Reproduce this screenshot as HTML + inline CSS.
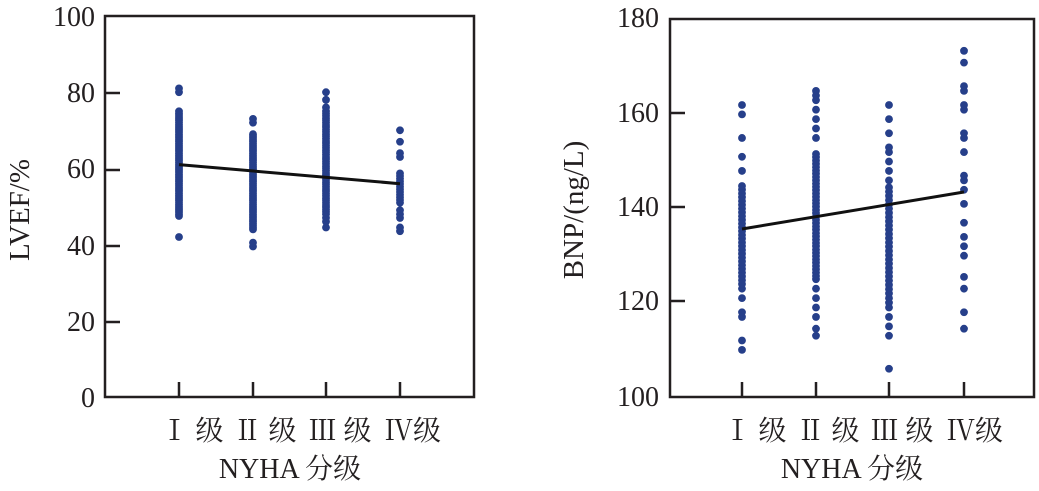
<!DOCTYPE html>
<html><head><meta charset="utf-8"><style>
body{margin:0;background:#fff}
text{font-family:"Liberation Serif","Noto Serif CJK SC",serif;fill:#231f20}
</style></head><body>
<svg id="s" width="1039" height="486" xmlns="http://www.w3.org/2000/svg">
<g stroke="#231f20" stroke-width="2.5" fill="none">
<rect x="105" y="16" width="369" height="381"/>
<rect x="670" y="19" width="364" height="378"/>
</g>
<g id="t" stroke="#231f20" stroke-width="2.5"></g>
<g id="p" fill="#263f8a"></g>
<line x1="179" y1="164.6" x2="400" y2="183.7" stroke="#111" stroke-width="3"/>
<line x1="742" y1="229" x2="964" y2="192" stroke="#111" stroke-width="3"/>
<g font-size="28" text-anchor="end">
<text x="95" y="26">100</text><text x="95" y="102">80</text><text x="95" y="178">60</text><text x="95" y="255">40</text><text x="95" y="331">20</text><text x="95" y="407">0</text>
<text x="659" y="27">180</text><text x="659" y="122">160</text><text x="659" y="216">140</text><text x="659" y="310">120</text><text x="659" y="406">100</text>
</g>
<g font-size="28" text-anchor="middle">
<text x="192" y="440">Ⅰ 级</text><text x="265" y="440">Ⅱ 级</text><text x="340" y="440">Ⅲ 级</text><text x="413" y="440">Ⅳ级</text>
<text x="290" y="478">NYHA 分级</text>
<text x="755" y="440">Ⅰ 级</text><text x="828" y="440">Ⅱ 级</text><text x="902" y="440">Ⅲ 级</text><text x="975" y="440">Ⅳ级</text>
<text x="852" y="478">NYHA 分级</text>
<text font-size="29" transform="translate(29,210) rotate(-90)">LVEF/%</text>
<text font-size="29" transform="translate(583,210) rotate(-90)">BNP/(ng/L)</text>
</g>
</svg>
<script>
var t=document.getElementById('t'),p=document.getElementById('p'),ns='http://www.w3.org/2000/svg';
function L(a,b,c,d){var e=document.createElementNS(ns,'line');e.setAttribute('x1',a);e.setAttribute('y1',b);e.setAttribute('x2',c);e.setAttribute('y2',d);t.appendChild(e);}
[93,170,246,322].forEach(function(y){L(105,y,120,y)});
[113,207,301].forEach(function(y){L(670,y,685,y)});
[179,253,326,400].forEach(function(x){L(x,397,x,382)});
[742,816,889,964].forEach(function(x){L(x,397,x,382)});
function C(x,y){var e=document.createElementNS(ns,'circle');e.setAttribute('cx',x);e.setAttribute('cy',y);e.setAttribute('r',3.9);p.appendChild(e);}
function ly(v){return 397-v*3.81}
function ry(v){return 397-(v-100)*4.71}
var L1=[[179,[42,47.5,48,80,81],[48.5,75,0.5]],[253,[39.5,40.5,72,73],[44,69,0.5]],[326,[44.5,46,47,80,78,76],[48,75,0.6]],[400,[43.5,44.5,47,48,49,63,64,67,70],[51,59,0.7]]];
L1.forEach(function(g){g[1].forEach(function(v){C(g[0],ly(v))});for(var v=g[2][0];v<=g[2][1];v+=g[2][2])C(g[0],ly(v));});
var R=[[742,[110,112,117,118,121,123,148,151,155,160,162],[124,145,0.8]],[816,[113,114.5,117,119,121,123,155,157,159,161,163,164,165],[125,152,0.7]],[889,[106,113,115,117,119,120,121,146,148,150,152,153,156,159,162],[122,145,0.9]],[964,[114.5,118,123,125.5,130,132,134,137,141,144,146,147,152,155,156,161,162,165,166,171,173.5],[0,-1,1]]];
R.forEach(function(g){g[1].forEach(function(v){C(g[0],ry(v))});for(var v=g[2][0];v<=g[2][1];v+=g[2][2])C(g[0],ry(v));});
</script>
</body></html>
